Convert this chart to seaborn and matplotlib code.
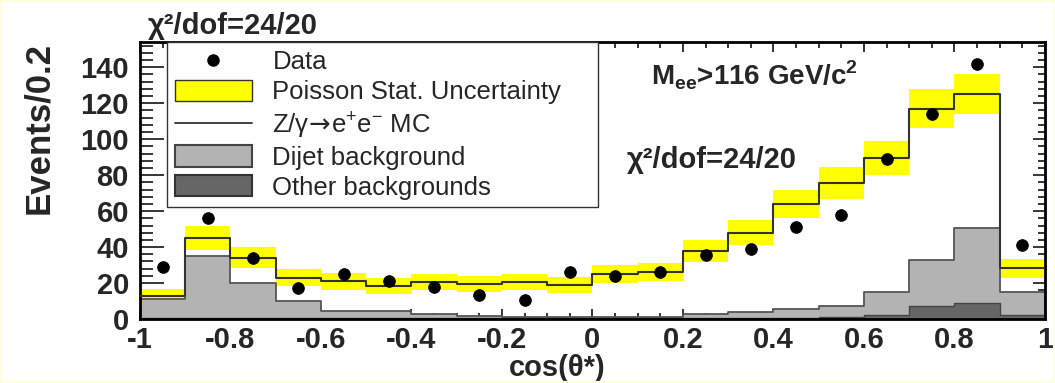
import numpy as np
import pandas as pd
import matplotlib
matplotlib.use('Agg')
import matplotlib.pyplot as plt
import seaborn as sns
from matplotlib.patches import Patch, Rectangle
from matplotlib.lines import Line2D
from matplotlib.ticker import MultipleLocator, FixedLocator

# ================================
# data (20 bins in cos(theta*))
# ================================
bin_edges = [-1.0, -0.9, -0.8, -0.7, -0.6, -0.5, -0.4, -0.3, -0.2, -0.1, 0.0,
             0.1, 0.2, 0.3, 0.4, 0.5, 0.6, 0.7, 0.8, 0.9, 1.0]
bin_centers = [-0.95, -0.85, -0.75, -0.65, -0.55, -0.45, -0.35, -0.25, -0.15, -0.05,
               0.05, 0.15, 0.25, 0.35, 0.45, 0.55, 0.65, 0.75, 0.85, 0.95]

data_counts = [29, 56, 34, 17.5, 25, 21.3, 17.6, 13.5, 10.7, 26,
               24, 26.4, 35.4, 39, 51, 58, 89, 114, 142, 41]
mc_counts = [13, 45, 34, 23, 21, 18.5, 20.4, 19.7, 20.6, 19,
             25, 26, 37.8, 48, 64, 75.7, 89.7, 117, 125, 28.3]
dijet_counts = [10.5, 34, 19.4, 9.5, 4.2, 4.2, 2.6, 1.4, 0.9, 0.7,
                0.7, 1.0, 2.1, 3.1, 5.0, 6.3, 12.8, 25.6, 41.4, 13]
other_counts = [0.5, 0.8, 0.6, 0.5, 0.5, 0.5, 0.4, 0.4, 0.3, 0.3,
                0.3, 0.4, 0.5, 0.7, 0.8, 1.2, 2.2, 7, 9, 2]

x_ticks = [-1, -0.8, -0.6, -0.4, -0.2, 0, 0.2, 0.4, 0.6, 0.8, 1]
x_ticklabels = ['-1', '-0.8', '-0.6', '-0.4', '-0.2', '0', '0.2', '0.4', '0.6', '0.8', '1']
y_ticks = [0, 20, 40, 60, 80, 100, 120, 140]
y_ticklabels = ['0', '20', '40', '60', '80', '100', '120', '140']

df = pd.DataFrame({'x': bin_centers, 'data': data_counts, 'mc': mc_counts,
                   'dijet': dijet_counts, 'other': other_counts})
df['bkg_total'] = df['dijet'] + df['other']
df['err'] = np.sqrt(df['mc'])   # Poisson stat. uncertainty on MC

# ================================
# style
# ================================
sns.set_style('white')
plt.rcParams['font.family'] = ['Liberation Sans', 'DejaVu Sans']
plt.rcParams['axes.unicode_minus'] = False

fig = plt.figure(figsize=(10.55, 3.83), dpi=100)
ax = fig.add_axes([0.1327, 0.167, 0.8578, 0.723])

# yellow band
ax.bar(df['x'], 2 * df['err'], bottom=df['mc'] - df['err'], width=0.1,
       color='#ffff00', linewidth=0, zorder=1)

# backgrounds
sns.histplot(x=df['x'], weights=df['bkg_total'], bins=bin_edges, element='step',
             fill=True, color='#b3b3b3', alpha=1, edgecolor='#555555',
             linewidth=1.3, zorder=2, ax=ax)
sns.histplot(x=df['x'], weights=df['other'], bins=bin_edges, element='step',
             fill=True, color='#666666', alpha=1, edgecolor='#444444',
             linewidth=1.0, zorder=2.5, ax=ax)

# MC line
sns.histplot(x=df['x'], weights=df['mc'], bins=bin_edges, element='step',
             fill=False, color='#333333', linewidth=1.5, zorder=3, ax=ax)

# data
sns.scatterplot(x=df['x'], y=df['data'], color='black', s=70, edgecolor='black',
                zorder=5, ax=ax)

# ================================
# axes
# ================================
ax.set_xlim(-1, 1)
ax.set_ylim(0, 154)
ax.xaxis.set_major_locator(FixedLocator(x_ticks))
ax.xaxis.set_minor_locator(MultipleLocator(0.05))
ax.yaxis.set_major_locator(FixedLocator(y_ticks))
ax.yaxis.set_minor_locator(MultipleLocator(4))
ax.set_xticklabels(x_ticklabels, fontsize=21, fontweight='bold')
ax.set_yticklabels(y_ticklabels, fontsize=21, fontweight='bold')

ax.tick_params(axis='x', which='both', direction='in', top=True, bottom=True, pad=5,
               width=1.3)
ax.tick_params(axis='x', which='major', length=7)
ax.tick_params(axis='x', which='minor', length=4)
ax.tick_params(axis='y', which='both', direction='in', left=True, right=False, pad=8,
               width=1.3)
ax.tick_params(axis='y', which='major', length=17)
ax.tick_params(axis='y', which='minor', length=9)

# shorter ticks on the right side
rax = ax.secondary_yaxis('right')
rax.yaxis.set_major_locator(FixedLocator(y_ticks))
rax.yaxis.set_minor_locator(MultipleLocator(4))
rax.tick_params(axis='y', which='both', direction='in', labelright=False, width=1.3)
rax.tick_params(axis='y', which='major', length=9)
rax.tick_params(axis='y', which='minor', length=5)
rax.spines['right'].set_visible(False)

for sp in ax.spines.values():
    sp.set_linewidth(2)
    sp.set_color('black')

ax.set_xlabel('cos(θ*)', fontsize=21, fontweight='bold')
ax.xaxis.set_label_coords(0.461, -0.125)
ax.xaxis.label.set_va('top')
ax.set_ylabel('Events/0.2', fontsize=25, fontweight='bold')
ax.yaxis.set_label_coords(-0.094, 0.69)

# ================================
# texts
# ================================
fig.text(0.140, 0.912, 'χ²/dof=24/20', fontsize=21, fontweight='bold', va='baseline')
ax.text(0.13, 130, r'M$_\mathregular{ee}$>116 GeV/c$^\mathregular{2}$',
        fontsize=20, fontweight='bold', va='baseline')
ax.text(0.075, 84, 'χ²/dof=24/20', fontsize=21, fontweight='bold', va='baseline')

# ================================
# legend
# ================================
handles = [
    Line2D([], [], marker='o', color='black', linestyle='none', markersize=8),
    Patch(facecolor='#ffff00', edgecolor='#333333', linewidth=1),
    Line2D([], [], color='#333333', linewidth=1.3),
    Patch(facecolor='#b3b3b3', edgecolor='#444444', linewidth=1.5),
    Patch(facecolor='#666666', edgecolor='#333333', linewidth=1.5),
]
labels = ['Data', 'Poisson Stat. Uncertainty',
          r'Z/γ$\!\rightarrow\!$e$^\mathregular{+}$e$^\mathregular{-}$ MC',
          'Dijet background', 'Other backgrounds']
leg = ax.legend(handles, labels, loc='upper left', bbox_to_anchor=(0.03, 0.41, 0.476, 0.59),
                mode='expand', fontsize=18.5, frameon=True, fancybox=False, framealpha=1,
                edgecolor='#333333', handlelength=3.0, handleheight=0.9,
                labelspacing=0.2, borderpad=0.3, handletextpad=0.8,
                borderaxespad=0)
leg.get_frame().set_linewidth(1)
leg.set_zorder(10)

# pale yellow page border
fig.patches.append(Rectangle((0, 0), 1, 1, transform=fig.transFigure, fill=False,
                             edgecolor='#ffffdd', linewidth=3))

fig.savefig('out.png', dpi=100)
